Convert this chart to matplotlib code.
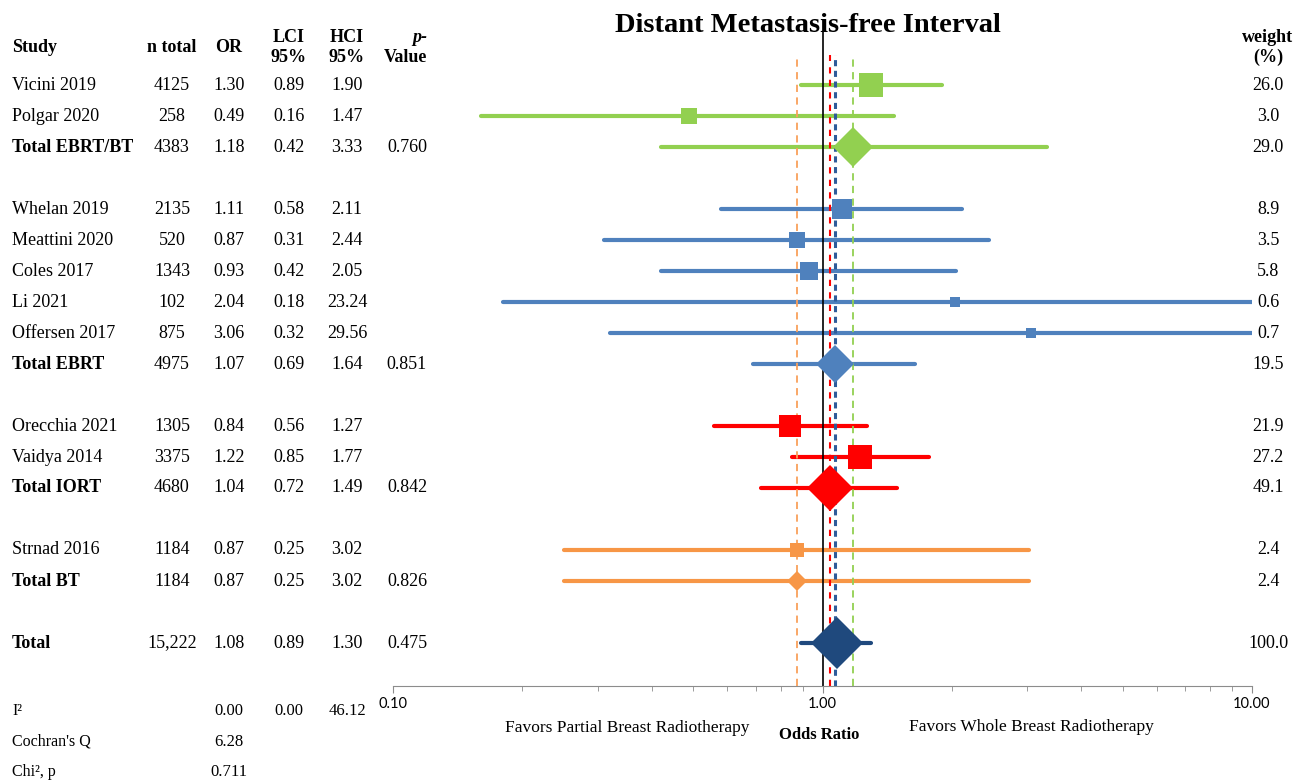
"""
forest plot - distant metastasis-free interval
"""
import numpy as np
import matplotlib.pyplot as plt
from matplotlib.transforms import blended_transform_factory
from matplotlib.ticker import FixedLocator, NullFormatter

studies = ["Vicini 2019", "Polgar 2020", "Total EBRT/BT",
           "Whelan 2019", "Meattini 2020", "Coles 2017", "Li 2021", "Offersen 2017", "Total EBRT",
           "Orecchia 2021", "Vaidya 2014", "Total IORT",
           "Strnad 2016", "Total BT",
           "Total"]
groups = ["EBRT/BT"] * 3 + ["EBRT"] * 6 + ["IORT"] * 3 + ["BT"] * 2 + ["All"]
n_total = [4125, 258, 4383, 2135, 520, 1343, 102, 875, 4975, 1305, 3375, 4680, 1184, 1184, 15222]
odds = [1.30, 0.49, 1.18, 1.11, 0.87, 0.93, 2.04, 3.06, 1.07, 0.84, 1.22, 1.04, 0.87, 0.87, 1.08]
lci = [0.89, 0.16, 0.42, 0.58, 0.31, 0.42, 0.18, 0.32, 0.69, 0.56, 0.85, 0.72, 0.25, 0.25, 0.89]
hci = [1.90, 1.47, 3.33, 2.11, 2.44, 2.05, 23.24, 29.56, 1.64, 1.27, 1.77, 1.49, 3.02, 3.02, 1.30]
p_value = ["", "", "0.760", "", "", "", "", "", "0.851", "", "", "0.842", "", "0.826", "0.475"]
weights = [26.0, 3.0, 29.0, 8.9, 3.5, 5.8, 0.6, 0.7, 19.5, 21.9, 27.2, 49.1, 2.4, 2.4, 100.0]

# heterogeneity
i2_vals = ["0.00", "0.00", "46.12"]
cochran_q = "6.28"
chi2_p = "0.711"

colors = {"EBRT/BT": "#92D050", "EBRT": "#4F81BD", "IORT": "#FF0000",
          "BT": "#F79646", "All": "#1F497D"}
ref_colors = {"EBRT/BT": "#92D050", "EBRT": "#2E5C9A", "IORT": "#FF0000", "BT": "#F9A05A"}

# row positions, one blank row between groups
y_pos = []
y = 0
for i, g in enumerate(groups):
    if i > 0 and g != groups[i - 1]:
        y += 1
    y_pos.append(y)
    y += 1

W, H = 1309, 783
fig = plt.figure(figsize=(W / 100, H / 100), dpi=100)
row0, row_h = 85, 31          # pixel of first row, pixels per row
ax_top, ax_bot = 55, 686
ax = fig.add_axes([393 / W, (H - ax_bot) / H, 859 / W, (ax_bot - ax_top) / H])
ax.set_xscale("log")
ax.set_xlim(0.1, 10)
ax.set_ylim((ax_bot - row0) / row_h, (ax_top - row0) / row_h)

def row_of(px):
    return (px - row0) / row_h

# reference lines
ax.axvline(1.0, ymin=0, ymax=(ax_bot - 32) / (ax_bot - ax_top), color="black", lw=1.2,
           zorder=2, clip_on=False)
for g, dash, lw in [("BT", (4, 3), 1.3), ("IORT", (3, 3), 1.5), ("EBRT", (2, 1.5), 2.2),
                    ("EBRT/BT", (4, 3), 1.3)]:
    k = groups.index(g) + groups.count(g) - 1
    ax.axvline(odds[k], color=ref_colors[g], lw=lw, dashes=dash, zorder=2)

# CIs and markers
for i in range(len(studies)):
    c = colors[groups[i]]
    yy = y_pos[i]
    ax.plot([lci[i], hci[i]], [yy, yy], color=c, lw=3, solid_capstyle="round", zorder=1.5)
    if studies[i].startswith("Total"):
        diag = 12 + 8.5 * np.log(weights[i])
        ax.plot(odds[i], yy, marker="D", ms=diag / np.sqrt(2) * 0.72, color=c, mew=0, zorder=3)
    else:
        side = 12 + 3.4 * np.log(weights[i])
        ax.plot(odds[i], yy, marker="s", ms=side * 0.72, color=c, mew=0, zorder=3)

# axis styling
for s in ["top", "left", "right"]:
    ax.spines[s].set_visible(False)
ax.spines["bottom"].set_color("#8c8c8c")
ax.set_yticks([])
ax.xaxis.set_major_locator(FixedLocator([0.1, 1, 10]))
ax.set_xticklabels(["0.10", "1.00", "10.00"], fontfamily="Lato", fontsize=10.5)
ax.xaxis.set_minor_locator(FixedLocator([m * d for d in [0.1, 1] for m in range(2, 10)]))
ax.xaxis.set_minor_formatter(NullFormatter())
ax.tick_params(axis="x", which="major", length=5, color="#8c8c8c", pad=3)
ax.tick_params(axis="x", which="minor", length=3.5, color="#8c8c8c")

# table text
tr = blended_transform_factory(fig.transFigure, ax.transData)
serif = "Liberation Serif"

def put(xpx, row, s, ha="center", size=13, **kw):
    ax.text(xpx / W, row, s, transform=tr, ha=ha, va="center", fontfamily=serif,
            fontsize=size, clip_on=False, **kw)

put(12, row_of(47), "Study", ha="left", fontweight="bold")
put(172, row_of(47), "n total", fontweight="bold")
put(229, row_of(47), "OR", fontweight="bold")
put(289, row_of(37), "LCI", fontweight="bold")
put(289, row_of(57), "95%", fontweight="bold")
put(347, row_of(37), "HCI", fontweight="bold")
put(347, row_of(57), "95%", fontweight="bold")
put(427, row_of(37), "p-", ha="right", fontweight="bold", fontstyle="italic")
put(427, row_of(57), "Value", ha="right", fontweight="bold")
put(1268, row_of(37), "weight", fontweight="bold")
put(1268, row_of(57), "(%)", fontweight="bold")

for i in range(len(studies)):
    yy = y_pos[i]
    bold = "bold" if studies[i].startswith("Total") else "normal"
    n_txt = f"{n_total[i]:,}" if n_total[i] >= 10000 else str(n_total[i])
    put(12, yy, studies[i], ha="left", fontweight=bold)
    put(172, yy, n_txt)
    put(229, yy, f"{odds[i]:.2f}")
    put(289, yy, f"{lci[i]:.2f}")
    put(347, yy, f"{hci[i]:.2f}")
    put(427, yy, p_value[i], ha="right")
    put(1268, yy, f"{weights[i]:.1f}")

put(12, row_of(711), "I\u00b2", ha="left", size=11.5)
for xpx, v in zip([229, 289, 347], i2_vals):
    put(xpx, row_of(711), v, size=12)
put(12, row_of(742), "Cochran's Q", ha="left", size=11.5)
put(229, row_of(742), cochran_q, size=12)
put(12, row_of(772), "Chi\u00b2, p", ha="left", size=11.5)
put(229, row_of(772), chi2_p, size=12)

fig.text(808 / W, 1 - 25 / H, "Distant Metastasis-free Interval", ha="center", va="center",
         fontfamily=serif, fontsize=20.5, fontweight="bold")
fig.text(627 / W, 1 - 728 / H, "Favors Partial Breast Radiotherapy", ha="center", va="center",
         fontfamily=serif, fontsize=12.5)
fig.text(819 / W, 1 - 735 / H, "Odds Ratio", ha="center", va="center",
         fontfamily=serif, fontsize=12, fontweight="bold")
fig.text(1031 / W, 1 - 727 / H, "Favors Whole Breast Radiotherapy", ha="center", va="center",
         fontfamily=serif, fontsize=12.5)

fig.savefig("out.png", dpi=100)
